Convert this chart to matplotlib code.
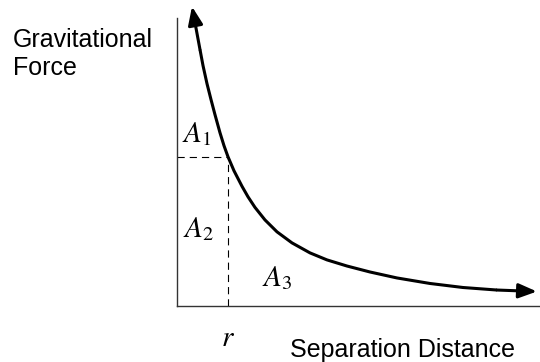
import matplotlib
matplotlib.use("Agg")
import matplotlib.pyplot as plt

plt.rcParams['font.family'] = ['Liberation Sans', 'DejaVu Sans']
plt.rcParams['mathtext.fontset'] = 'stix'

# curve (arbitrary units, r = 1, F(r) = 1)
distance = [0.294, 0.333, 0.392, 0.451, 0.510, 0.588, 0.667, 0.745, 0.843,
            0.922, 1.0, 1.118, 1.275, 1.392, 1.529, 1.725, 1.961, 2.255,
            2.608, 2.941, 3.333, 3.784, 4.314, 4.961, 5.608, 6.275, 7.059]
force = [2.007, 1.933, 1.826, 1.718, 1.611, 1.490, 1.383, 1.282, 1.161,
         1.074, 1.0, 0.906, 0.802, 0.732, 0.661, 0.577, 0.497, 0.423,
         0.356, 0.309, 0.268, 0.228, 0.188, 0.151, 0.124, 0.107, 0.097]

r_dist = 1.0
r_force = 1.0

area_labels = [r'$A_1$', r'$A_2$', r'$A_3$']
area_pos = [(0.10, 1.10), (0.12, 0.46), (1.67, 0.13)]

fig = plt.figure(figsize=(5.4, 3.62), dpi=100)
ax = fig.add_axes([0.3278, 0.1547, 0.6722, 0.7956])
ax.set_xlim(0, 7.12)
ax.set_ylim(0, 1.93)

# curve body
ax.plot(distance[3:-1], force[3:-1], color='black', lw=2.2,
        solid_capstyle='butt', solid_joinstyle='round', clip_on=False)
# arrow heads at both ends
arrow = dict(arrowstyle='-|>,head_length=0.55,head_width=0.22',
             color='black', lw=2.2, shrinkA=0, shrinkB=0, mutation_scale=20)
ax.annotate('', xy=(distance[0], force[0]), xytext=(distance[3], force[3]),
            arrowprops=arrow, annotation_clip=False)
ax.annotate('', xy=(distance[-1], force[-1]), xytext=(distance[-2], force[-2]),
            arrowprops=arrow, annotation_clip=False)

# dashed guides at r
ax.plot([0, r_dist], [r_force, r_force], color='black', lw=0.8, dashes=(6.5, 4.5))
ax.plot([r_dist, r_dist], [0, r_force], color='black', lw=0.8, dashes=(6.5, 4.5))

for lab, (x, y) in zip(area_labels, area_pos):
    ax.text(x, y, lab, fontsize=21, va='baseline', ha='left')

ax.text(r_dist, -0.265, r'$r$', fontsize=21, ha='center', va='baseline',
        clip_on=False)

for s in ['top', 'right']:
    ax.spines[s].set_visible(False)
for s in ['left', 'bottom']:
    ax.spines[s].set_linewidth(1.0)
    ax.spines[s].set_color('#333333')
ax.set_xticks([])
ax.set_yticks([])

fig.text(0.024, 0.870, 'Gravitational', fontsize=18, va='baseline')
fig.text(0.024, 0.793, 'Force', fontsize=18, va='baseline')
fig.text(0.537, 0.0138, 'Separation Distance', fontsize=18, va='baseline')

fig.savefig('out.png', dpi=100)
